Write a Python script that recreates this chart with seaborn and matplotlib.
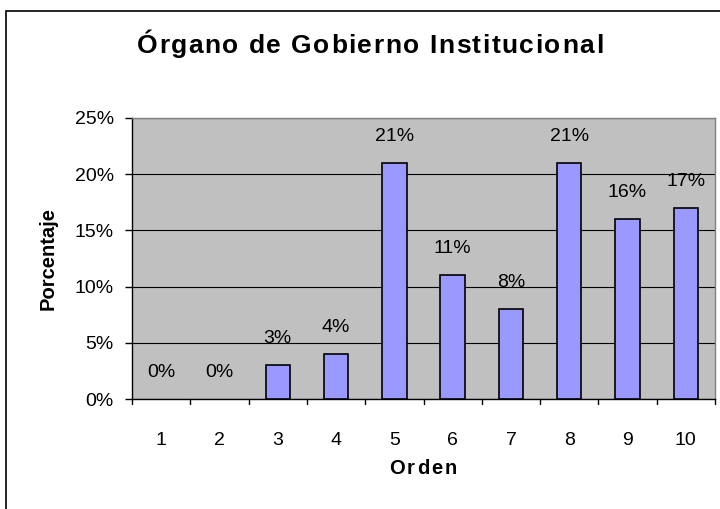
import matplotlib
matplotlib.use("Agg")
import pandas as pd
import seaborn as sns
import matplotlib.pyplot as plt
from matplotlib.patches import Rectangle

# Data
orden = ["1", "2", "3", "4", "5", "6", "7", "8", "9", "10"]
porcentaje = [0, 0, 3, 4, 21, 11, 8, 21, 16, 17]
y_ticks = [0, 5, 10, 15, 20, 25]

df = pd.DataFrame({"orden": orden, "porcentaje": porcentaje})

sns.set_style("white")
plt.rcParams["font.family"] = ["Liberation Sans", "DejaVu Sans"]
plt.rcParams["text.color"] = "black"
plt.rcParams["xtick.color"] = "black"
plt.rcParams["ytick.color"] = "black"

W, H = 720, 509
fig = plt.figure(figsize=(7.2, 5.09), dpi=100)
ax = fig.add_axes([132 / W, 1 - 399 / H, (715 - 132) / W, (399 - 118) / H])

sns.barplot(data=df, x="orden", y="porcentaje", color="#9999FF", width=0.42,
            edgecolor="black", linewidth=1.2, saturation=1, ax=ax, zorder=3)
for p, v in zip(ax.patches, porcentaje):
    if v == 0:
        p.set_visible(False)

ax.set_facecolor("#C0C0C0")
ax.set_ylim(0, 25)
ax.set_xlim(-0.5, 9.5)
ax.set_yticks(y_ticks)
ax.set_yticklabels([f"{v}%" for v in y_ticks], fontsize=14)
ax.yaxis.grid(True, color="black", linewidth=0.8, zorder=1)
ax.set_axisbelow(True)
ax.tick_params(axis="y", left=True, length=5, width=1, color="black", pad=8)
ax.tick_params(axis="x", bottom=False, labelsize=14, pad=20)

# x ticks sit between categories
for b in range(11):
    ax.plot([b - 0.5, b - 0.5], [0, -0.018], transform=ax.get_xaxis_transform(),
            color="black", linewidth=1, clip_on=False)

for s in ["top", "right"]:
    ax.spines[s].set_color("#808080")
    ax.spines[s].set_linewidth(1)
for s in ["left", "bottom"]:
    ax.spines[s].set_color("black")
    ax.spines[s].set_linewidth(1)

for i, v in enumerate(porcentaje):
    ax.text(i, v + 1.6, f"{v}%", ha="center", va="bottom", fontsize=14)

ax.set_xlabel("")
ax.set_ylabel("")

renderer = fig.canvas.get_renderer()


def text_width(s, size):
    t = fig.text(0, 0, s, fontsize=size, fontweight="bold")
    w = t.get_window_extent(renderer).width
    t.remove()
    return w


def spaced_text(s, cx, cy, size, total_width):
    # draws text with letter spacing so it spans total_width pixels
    base = text_width("||", size)
    adv = [text_width("|" + c + "|", size) - base for c in s]
    gap = (total_width - sum(adv)) / max(len(s) - 1, 1)
    x = cx - total_width / 2
    for c, a in zip(s, adv):
        fig.text(x / W, 1 - cy / H, c, fontsize=size, fontweight="bold",
                 ha="left", va="center")
        x += a + gap


spaced_text("Órgano de Gobierno Institucional", 370, 46, 19, 466)
spaced_text("Orden", 423, 469, 14.5, 68)
fig.text(48 / W, 1 - 258 / H, "Porcentaje", fontsize=14.5, fontweight="bold",
         rotation=90, ha="center", va="center")

fig.patches.append(Rectangle((6 / W, -0.01), 1, 1 - 11 / H + 0.01, transform=fig.transFigure,
                             fill=False, edgecolor="black", linewidth=1.2))

fig.savefig("out.png", dpi=100)
